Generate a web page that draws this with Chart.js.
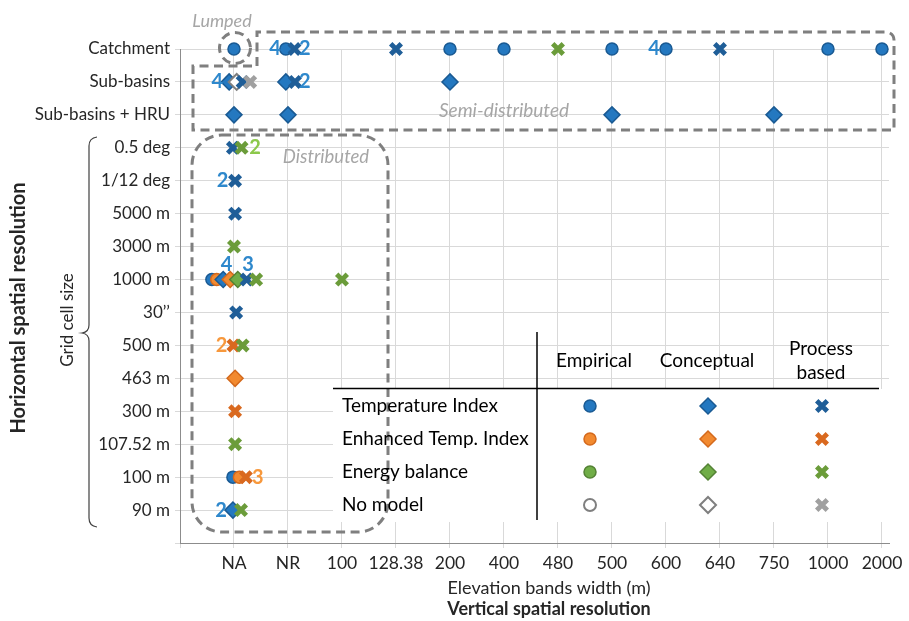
<!DOCTYPE html>
<html><head><meta charset="utf-8">
<script src="https://cdn.jsdelivr.net/npm/chart.js@4"></script>
<style>html,body{margin:0;padding:0;background:#fff}canvas{display:block}</style>
</head><body>
<canvas id="c" width="909" height="621"></canvas>
<script>
// ---------- data ----------
const xCategories = ['NA','NR','100','128.38','200','400','480','500','600','640','750','1000','2000'];
const yCategories = ['Catchment','Sub-basins','Sub-basins + HRU','0.5 deg','1/12 deg','5000 m','3000 m','1000 m','30\u2019\u2019','500 m','463 m','300 m','107.52 m','100 m','90 m'];
// points: [elevation band width, horizontal resolution, small shift inside a crowded cell]
const tempIndexEmpirical = [['NA','Catchment',0],['NR','Catchment',-0.04],['200','Catchment',0],['400','Catchment',0],['500','Catchment',0],['600','Catchment',0],['1000','Catchment',0],['2000','Catchment',0],['NA','1000 m',-0.41],['NA','100 m',-0.02]];
const tempIndexConceptual = [['NA','Sub-basins',-0.09],['NR','Sub-basins',-0.04],['200','Sub-basins',0],['NA','Sub-basins + HRU',0],['NR','Sub-basins + HRU',0],['500','Sub-basins + HRU',0],['750','Sub-basins + HRU',0],['NA','1000 m',-0.2],['NA','90 m',-0.02]];
const tempIndexProcess = [['NR','Catchment',0.12],['128.38','Catchment',0],['640','Catchment',0],['NA','Sub-basins',0.16],['NR','Sub-basins',0.13],['NA','0.5 deg',-0.02],['NA','1/12 deg',0.02],['NA','5000 m',0.02],['NA','1000 m',0.235],['NA','30\u2019\u2019',0.04]];
const enhancedEmpirical = [['NA','1000 m',-0.32],['NA','100 m',0.1]];
const enhancedConceptual = [['NA','1000 m',-0.07],['NA','463 m',0.02]];
const enhancedProcess = [['NA','500 m',-0.01],['NA','300 m',0.02],['NA','100 m',0.22]];
const energyEmpirical = [];
const energyConceptual = [['NA','1000 m',0.07]];
const energyProcess = [['480','Catchment',0],['NA','0.5 deg',0.14],['NA','3000 m',0],['NA','1000 m',0.41],['100','1000 m',0],['NA','500 m',0.16],['NA','107.52 m',0.02],['NA','90 m',0.13]];
const noModelEmpirical = [];
const noModelConceptual = [['NA','Sub-basins',0.05]];
const noModelProcess = [['NA','Sub-basins',0.3]];
// number of studies in a crowded cell: [text, band, resolution, shift, raised]
const tempIndexCounts = [['4','NR','Catchment',-0.24,false],['2','NR','Catchment',0.31,false],['4','NA','Sub-basins',-0.31,false],['2','NR','Sub-basins',0.31,false],['4','600','Catchment',-0.22,false],['2','NA','1/12 deg',-0.21,false],['4','NA','1000 m',-0.14,true],['3','NA','1000 m',0.26,true],['2','NA','90 m',-0.24,false]];
const enhancedCounts = [['2','NA','500 m',-0.23,false],['3','NA','100 m',0.44,false]];
const energyCounts = [['2','NA','0.5 deg',0.39,false]];
const modelTypes = ['Temperature Index','Enhanced Temp. Index','Energy balance','No model'];
const approaches = ['Empirical','Conceptual','Process based'];

// ---------- styling ----------
const FONT = 'Lato, "Open Sans", sans-serif';
const C = {
  ti:  {fill:'#2478C0', line:'#1A5A93', cross:'#1F5E98', label:'#2E88CC'},
  eti: {fill:'#F28A30', line:'#D4691C', cross:'#D9691F', label:'#F7983C'},
  eb:  {fill:'#70AD47', line:'#548235', cross:'#6B9C3A', label:'#8CC84B'},
  nm:  {fill:'#FFFFFF', line:'#7F7F7F', cross:'#A0A0A0', label:'#7F7F7F'}
};
function markerStyle(key, kind) {
  const c = C[key];
  if (kind === 'circle') return {pointStyle:'circle', pointRadius:6, backgroundColor:c.fill, borderColor:c.line, borderWidth:key==='nm'?2:1.5};
  if (kind === 'diamond') return {pointStyle:'rectRot', pointRadius:8, backgroundColor:c.fill, borderColor:c.line, borderWidth:key==='nm'?2:1.5};
  return {pointStyle:'crossRot', pointRadius:7.5, backgroundColor:c.cross, borderColor:c.cross, borderWidth:4.8};
}
const xOf = (xc, dx) => xCategories.indexOf(xc) + 1 + dx;
const yOf = (yc) => yCategories.length - yCategories.indexOf(yc);
const toPoints = arr => arr.map(([xc, yc, dx]) => ({x: xOf(xc, dx), y: yOf(yc)}));

const layers = [ // bottom -> top
  ['ti','circle',tempIndexEmpirical],['eti','circle',enhancedEmpirical],['eb','circle',energyEmpirical],['nm','circle',noModelEmpirical],
  ['ti','diamond',tempIndexConceptual],['eti','diamond',enhancedConceptual],['eb','diamond',energyConceptual],['nm','diamond',noModelConceptual],
  ['ti','cross',tempIndexProcess],['eti','cross',enhancedProcess],['eb','cross',energyProcess],['nm','cross',noModelProcess]
];
const datasets = layers.map(([key, kind, arr], i) => Object.assign({
  label: key + ' ' + kind, data: toPoints(arr), order: layers.length - i, clip: false,
  pointHoverRadius: 8
}, markerStyle(key, kind)));

function dashed(ctx) { ctx.setLineDash([9, 5.5]); ctx.lineWidth = 3; ctx.strokeStyle = '#7F7F7F'; }

const decor = {
  id: 'decor',
  beforeDatasetsDraw(chart) {
    const ctx = chart.ctx;
    ctx.save();
    ctx.fillStyle = '#FFFFFF';
    ctx.fillRect(333, 389, 556, 133);
    ctx.restore();
  },
  afterDatasetsDraw(chart) {
    const ctx = chart.ctx, xs = chart.scales.x, ys = chart.scales.y;
    ctx.save();
    // boxes
    dashed(ctx);
    ctx.beginPath();
    ctx.moveTo(257, 66); ctx.lineTo(257, 32); ctx.lineTo(886, 32);
    ctx.arcTo(894, 32, 894, 40, 8); ctx.lineTo(894, 130); ctx.lineTo(193, 130);
    ctx.lineTo(193, 66); ctx.lineTo(257, 66);
    ctx.stroke();
    ctx.beginPath();
    ctx.ellipse(235, 48, 15.5, 15.5, 0, 0, Math.PI * 2);
    ctx.stroke();
    ctx.beginPath();
    const L = 192, T = 135, R = 388, B = 532, r = 30;
    ctx.moveTo(L + r, T); ctx.lineTo(R - r, T); ctx.arcTo(R, T, R, T + r, r);
    ctx.lineTo(R, B - r); ctx.arcTo(R, B, R - r, B, r); ctx.lineTo(L + r, B);
    ctx.arcTo(L, B, L, B - r, r); ctx.lineTo(L, T + r); ctx.arcTo(L, T, L + r, T, r);
    ctx.stroke();
    ctx.setLineDash([]);
    // group names
    ctx.fillStyle = '#A6A6A6';
    ctx.font = 'italic 18px ' + FONT;
    ctx.textAlign = 'center'; ctx.textBaseline = 'middle';
    ctx.fillText('Lumped', 222, 21);
    ctx.font = 'italic 19px ' + FONT;
    ctx.fillText('Semi-distributed', 504, 111);
    ctx.font = 'italic 18.5px ' + FONT;
    ctx.fillText('Distributed', 326, 157);
    // counts
    ctx.font = 'bold 20px ' + FONT;
    [['ti', tempIndexCounts], ['eti', enhancedCounts], ['eb', energyCounts]].forEach(([key, arr]) => {
      ctx.fillStyle = C[key].label;
      arr.forEach(([t, xc, yc, dx, raised]) => {
        ctx.fillText(t, xs.getPixelForValue(xOf(xc, dx)), ys.getPixelForValue(yOf(yc)) - (raised ? 15 : 0));
      });
    });
    ctx.restore();
  },
  afterDraw(chart) {
    const ctx = chart.ctx;
    ctx.save();
    // legend table
    ctx.strokeStyle = '#000'; ctx.lineWidth = 1.5;
    ctx.beginPath(); ctx.moveTo(537, 332); ctx.lineTo(537, 520); ctx.stroke();
    ctx.beginPath(); ctx.moveTo(333, 388.5); ctx.lineTo(879, 388.5); ctx.stroke();
    ctx.fillStyle = '#000'; ctx.font = '19px ' + FONT;
    ctx.textBaseline = 'middle'; ctx.textAlign = 'center';
    ctx.fillText(approaches[0], 594, 361);
    ctx.fillText(approaches[1], 707, 361);
    const pb = approaches[2].split(' ');
    ctx.fillText(pb[0], 821, 349);
    ctx.fillText(pb[1], 821, 373);
    ctx.textAlign = 'left';
    const rowsY = [406, 439, 472, 505], keys = ['ti','eti','eb','nm'], kinds = ['circle','diamond','cross'], colsX = [590, 708, 822];
    modelTypes.forEach((m, i) => {
      ctx.fillStyle = '#000';
      ctx.fillText(m, 342, rowsY[i]);
      kinds.forEach((k, j) => {
        const s = markerStyle(keys[i], k);
        ctx.fillStyle = s.backgroundColor; ctx.strokeStyle = s.borderColor; ctx.lineWidth = s.borderWidth;
        Chart.helpers.drawPoint(ctx, {pointStyle: s.pointStyle, radius: s.pointRadius, rotation: 0, borderWidth: s.borderWidth}, colsX[j], rowsY[i]);
      });
    });
    // axis titles
    ctx.fillStyle = '#262626'; ctx.textAlign = 'center';
    ctx.font = '18px ' + FONT;
    ctx.fillText('Elevation bands width (m)', 549, 588);
    ctx.font = 'bold 18px ' + FONT;
    ctx.fillText('Vertical spatial resolution', 549, 609);
    ctx.save();
    ctx.translate(19, 308); ctx.rotate(-Math.PI / 2);
    ctx.font = 'bold 20px ' + FONT;
    ctx.fillText('Horizontal spatial resolution', 0, 0);
    ctx.restore();
    ctx.save();
    ctx.translate(68, 320); ctx.rotate(-Math.PI / 2);
    ctx.font = '17px ' + FONT;
    ctx.fillText('Grid cell size', 0, 0);
    ctx.restore();
    // brace
    ctx.strokeStyle = '#404040'; ctx.lineWidth = 1.2;
    ctx.beginPath();
    ctx.moveTo(97, 137); ctx.quadraticCurveTo(89, 138, 89, 146);
    ctx.lineTo(89, 325); ctx.quadraticCurveTo(89, 332, 82, 333);
    ctx.quadraticCurveTo(89, 334, 89, 341);
    ctx.lineTo(89, 518); ctx.quadraticCurveTo(89, 526, 97, 527);
    ctx.stroke();
    ctx.restore();
  }
};

new Chart(document.getElementById('c'), {
  type: 'scatter',
  data: {datasets},
  options: {
    responsive: false, animation: false, devicePixelRatio: 1,
    layout: {padding: {top: 49, right: 20, left: 0, bottom: 0}},
    plugins: {legend: {display: false}, tooltip: {enabled: false}},
    scales: {
      x: {
        type: 'linear', min: 0, max: 13.13, bounds: 'data',
        afterFit: s => { s.height = 78; },
        ticks: {stepSize: 1, includeBounds: false, autoSkip: false, maxRotation: 0, padding: 5,
          color: '#262626', font: {family: FONT, size: 17.5},
          callback: v => (v >= 1 && v <= xCategories.length && Number.isInteger(v)) ? xCategories[v - 1] : ''},
        grid: {color: '#D9D9D9', lineWidth: 1, tickLength: 5},
        border: {color: '#8C8C8C', width: 1}
      },
      y: {
        type: 'linear', min: 0, max: 15,
        afterFit: s => { s.width = 180; },
        ticks: {stepSize: 1, autoSkip: false, padding: 5, color: '#262626', font: {family: FONT, size: 17},
          callback: v => (v >= 1 && v <= yCategories.length) ? yCategories[yCategories.length - v] : ''},
        grid: {color: '#D9D9D9', lineWidth: 1, tickLength: 5},
        border: {color: '#8C8C8C', width: 1}
      }
    }
  },
  plugins: [decor]
});
</script>
</body></html>
